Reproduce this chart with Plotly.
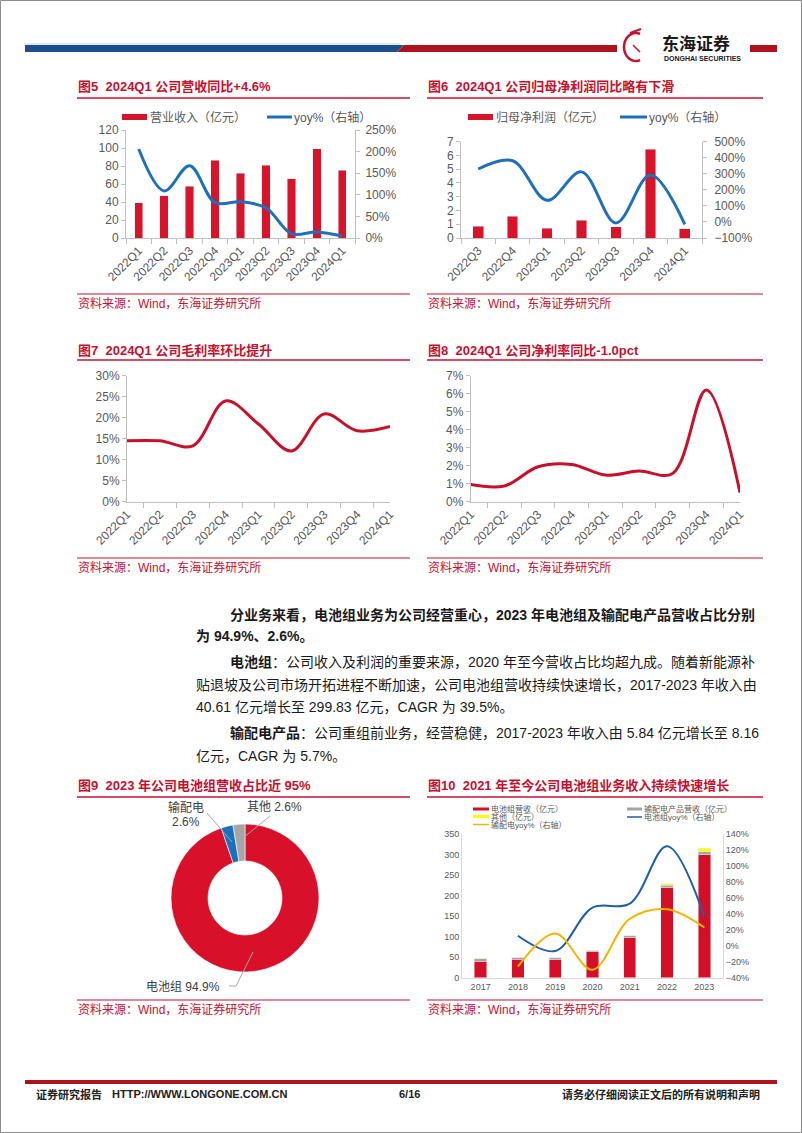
import math
import plotly.graph_objects as go

W, H = 802, 1133
def X(p): return p / W
def Y(p): return 1 - p / H

RED = '#d7142a'
TRED = '#c8102e'
LRED = '#c9102b'
BLUE = '#1f6fba'
GTXT = '#595959'
AXC = '#bfbfbf'
FONT = 'Liberation Sans, Noto Sans CJK SC, sans-serif'
CJK = 'Noto Sans CJK SC, Liberation Sans, sans-serif'

# ---------------- data ----------------
q9 = ['2022Q1', '2022Q2', '2022Q3', '2022Q4', '2023Q1', '2023Q2', '2023Q3', '2023Q4', '2024Q1']
revenue = [39.0, 46.8, 57.6, 86.6, 71.7, 80.7, 65.8, 98.9, 75.5]          # 亿元
revenue_yoy = [2.06, 1.09, 1.67, 0.82, 0.84, 0.70, 0.10, 0.14, 0.046]

q7 = ['2022Q3', '2022Q4', '2023Q1', '2023Q2', '2023Q3', '2023Q4', '2024Q1']
netprofit = [0.85, 1.58, 0.72, 1.29, 0.80, 6.45, 0.66]                  # 亿元
netprofit_yoy = [3.30, 3.81, 1.35, 3.12, -0.06, 2.92, -0.15]

gross_margin = [0.145, 0.145, 0.133, 0.240, 0.185, 0.121, 0.209, 0.169, 0.179]
net_margin = [0.0095, 0.0087, 0.0194, 0.0207, 0.0148, 0.0170, 0.0157, 0.0620, 0.0050]

pie_labels = ['电池组', '输配电', '其他']
pie_values = [94.9, 2.6, 2.6]

years = ['2017', '2018', '2019', '2020', '2021', '2022', '2023']
battery_rev = [40.61, 45.5, 43.2, 63.5, 97.0, 219.0, 299.83]
td_rev = [5.84, 4.3, 5.0, 3.5, 4.8, 6.9, 8.16]
other_rev = [0.6, 0.5, 0.4, 0.5, 0.8, 3.8, 8.3]
battery_yoy = [None, 0.127, -0.065, 0.479, 0.53, 1.25, 0.366]
td_yoy = [None, -0.26, 0.156, -0.30, 0.34, 0.46, 0.23]

# ---------------- figure ----------------
fig = go.Figure()

# Chart 5
fig.add_trace(go.Bar(x=q9, y=revenue, width=0.33, marker_color=RED, xaxis='x', yaxis='y', name='营业收入（亿元）'))
fig.add_trace(go.Scatter(x=q9, y=revenue_yoy, mode='lines', line=dict(color=BLUE, width=3, shape='spline', smoothing=1.0),
                         xaxis='x', yaxis='y2', name='yoy%（右轴）'))
# Chart 6
fig.add_trace(go.Bar(x=q7, y=netprofit, width=0.31, marker_color=RED, xaxis='x2', yaxis='y3', name='归母净利润（亿元）'))
fig.add_trace(go.Scatter(x=q7, y=netprofit_yoy, mode='lines', line=dict(color=BLUE, width=3, shape='spline', smoothing=1.0),
                         xaxis='x2', yaxis='y4', name='yoy%（右轴）'))
# Chart 7
fig.add_trace(go.Scatter(x=q9, y=gross_margin, mode='lines', line=dict(color=LRED, width=3, shape='spline', smoothing=1.0),
                         xaxis='x3', yaxis='y5', name='毛利率'))
# Chart 8
fig.add_trace(go.Scatter(x=q9, y=net_margin, mode='lines', line=dict(color=LRED, width=3, shape='spline', smoothing=1.0),
                         xaxis='x4', yaxis='y6', name='净利率'))
# Chart 9 donut
fig.add_trace(go.Pie(labels=pie_labels, values=pie_values, hole=0.5, sort=False, direction='clockwise', rotation=0,
                     textinfo='none', marker=dict(colors=['#d8102a', '#1b6fc0', '#a6a6a6'], line=dict(color='white', width=0.6)),
                     domain=dict(x=[X(171), X(319)], y=[Y(972), Y(824)]), showlegend=False))
# Chart 10
fig.add_trace(go.Bar(x=years, y=battery_rev, width=0.33, marker_color='#d40f27', xaxis='x5', yaxis='y7', name='电池组营收（亿元）'))
fig.add_trace(go.Bar(x=years, y=td_rev, width=0.33, marker_color='#a5a5a5', xaxis='x5', yaxis='y7', name='输配电产品营收（亿元）'))
fig.add_trace(go.Bar(x=years, y=other_rev, width=0.33, marker_color='#ffff00', xaxis='x5', yaxis='y7', name='其他（亿元）'))
fig.add_trace(go.Scatter(x=years, y=battery_yoy, mode='lines', line=dict(color='#1f5ea8', width=2, shape='spline', smoothing=1.0),
                         xaxis='x5', yaxis='y8', name='电池组yoy%（右轴）'))
fig.add_trace(go.Scatter(x=years, y=td_yoy, mode='lines', line=dict(color='#f7b500', width=2, shape='spline', smoothing=1.0),
                         xaxis='x5', yaxis='y8', name='输配电yoy%（右轴）'))


def xax(x0, x1, anchor, size=12, angle=-45, ticks='outside'):
    return dict(domain=[X(x0), X(x1)], anchor=anchor, type='category', showline=True, linecolor=AXC, linewidth=1,
                ticks=ticks, tickson='boundaries', ticklen=5, tickcolor=AXC, tickangle=angle, automargin=False,
                tickfont=dict(size=size, color=GTXT, family=FONT), showgrid=False, zeroline=False, fixedrange=True)


def yax(y0, y1, anchor, rng, dtick, fmt=None, size=12, side='left', overlay=None, standoff=None, line=True):
    d = dict(anchor=anchor, range=rng, dtick=dtick, showline=line, linecolor=AXC, linewidth=1, ticks='outside' if line else '',
             ticklen=4, tickcolor=AXC, tickfont=dict(size=size, color=GTXT, family=FONT), showgrid=False,
             zeroline=False, side=side, fixedrange=True, automargin=False)
    if overlay:
        d['overlaying'] = overlay
    else:
        d['domain'] = [Y(y1), Y(y0)]
    if fmt:
        d['tickformat'] = fmt
    if standoff is not None:
        d['ticklabelstandoff'] = standoff
    return d


layout = dict(
    width=W, height=H, margin=dict(l=0, r=0, t=0, b=0, pad=0, autoexpand=False),
    paper_bgcolor='white', plot_bgcolor='white',
    showlegend=False, barmode='stack', font=dict(family=FONT),
    xaxis=xax(126, 355, 'y'),
    yaxis=yax(130, 238, 'x', [0, 120], 20),
    yaxis2=yax(130, 238, 'x', [0, 2.5], 0.5, fmt='.0%', side='right', overlay='y', standoff=3),
    xaxis2=xax(461, 702, 'y3'),
    yaxis3=yax(141.7, 238, 'x2', [0, 7], 1),
    yaxis4=yax(141.7, 238, 'x2', [-1, 5], 1, fmt='.0%', side='right', overlay='y3', standoff=5),
    xaxis3=xax(127, 390, 'y5'),
    yaxis5=yax(375.7, 501.7, 'x3', [0, 0.30], 0.05, fmt='.0%'),
    xaxis4=xax(470.7, 740, 'y6'),
    yaxis6=yax(375.7, 501.7, 'x4', [0, 0.07], 0.01, fmt='.0%'),
    xaxis5=xax(462, 723, 'y7', size=9, angle=0, ticks=''),
    yaxis7=yax(834.3, 977.7, 'x5', [0, 350], 50, size=9),
    yaxis8=yax(834.3, 977.7, 'x5', [-0.4, 1.4], 0.2, fmt='.0%', size=9, side='right', overlay='y7'),
)
layout['xaxis5']['linecolor'] = '#d9d9d9'
layout['yaxis7']['linecolor'] = '#d9d9d9'
layout['yaxis8']['linecolor'] = '#d9d9d9'
layout['yaxis7']['ticks'] = ''
layout['yaxis8']['ticks'] = ''
fig.update_layout(**layout)

ann = []
shapes = []


def text(x, y, s, size=12, color='#000', xanchor='left', family=FONT, yanchor='middle'):
    ann.append(dict(x=X(x), y=Y(y), xref='paper', yref='paper', text=s, showarrow=False, xanchor=xanchor,
                    yanchor=yanchor, font=dict(size=size, color=color, family=family), borderpad=0))


def line(x0, y0, x1, y1, color, width):
    shapes.append(dict(type='line', xref='paper', yref='paper', x0=X(x0), y0=Y(y0), x1=X(x1), y1=Y(y1),
                       line=dict(color=color, width=width)))


def rect(x0, y0, x1, y1, color):
    shapes.append(dict(type='rect', xref='paper', yref='paper', x0=X(x0), y0=Y(y0), x1=X(x1), y1=Y(y1),
                       line=dict(width=0), fillcolor=color))


def poly(pts, color):
    p = 'M ' + ' L '.join(f'{X(a):.5f},{Y(b):.5f}' for a, b in pts) + ' Z'
    shapes.append(dict(type='path', xref='paper', yref='paper', path=p, fillcolor=color, line=dict(width=0)))


# page border
shapes.append(dict(type='rect', xref='paper', yref='paper', x0=X(0.5), y0=Y(1132.5), x1=X(801.5), y1=Y(0.5),
                   line=dict(color='#8c8c8c', width=1)))

# header
line(25, 44, 400, 44, '#bdd7ee', 1)
poly([(25, 45), (404, 45), (397, 52), (25, 52)], '#1f4e8d')
poly([(397, 52), (404, 45), (617, 45), (617, 52)], '#b0111e')
rect(750, 45, 777, 52, '#b0111e')
arc = []
for i in range(0, 41):
    a = math.radians(70 + i * 5.5)
    arc.append((636 + 12 * math.cos(a), 47 - 14 * math.sin(a)))
shapes.append(dict(type='path', xref='paper', yref='paper',
                   path='M ' + ' L '.join(f'{X(a):.5f},{Y(b):.5f}' for a, b in arc),
                   line=dict(color='#c8102e', width=2.5)))
line(630, 33, 641, 29, '#c8102e', 2)
line(633, 45, 640, 52, '#c8102e', 1.5)
text(661, 42, '<b>东海证券</b>', size=17, color='#1a1a1a', family=CJK)
text(663, 58, '<b>DONGHAI SECURITIES</b>', size=7, color='#1a1a1a')

# titles, rules and sources
titles = [(77, 87, '<b>图5  2024Q1 公司营收同比+4.6%</b>'),
          (427, 87, '<b>图6  2024Q1 公司归母净利润同比略有下滑</b>'),
          (77, 350, '<b>图7  2024Q1 公司毛利率环比提升</b>'),
          (427, 350, '<b>图8  2024Q1 公司净利率同比-1.0pct</b>'),
          (77, 785, '<b>图9  2023 年公司电池组营收占比近 95%</b>'),
          (427, 785, '<b>图10  2021 年至今公司电池组业务收入持续快速增长</b>')]
for x, y, s in titles:
    text(x, y, s, size=13, color=TRED)
for y in (98, 360, 797):
    line(77, y, 410, y, TRED, 1.5)
    line(427, y, 763, y, TRED, 1.5)
for y_line, y_txt in ((294, 303), (558, 567), (1000, 1009)):
    line(77, y_line, 410, y_line, TRED, 1.2)
    line(427, y_line, 763, y_line, TRED, 1.2)
    text(77, y_txt, '资料来源：Wind，东海证券研究所', size=12, color=TRED)
    text(427, y_txt, '资料来源：Wind，东海证券研究所', size=12, color=TRED)

# legends chart 5 & 6
rect(122, 114, 147, 120, RED)
text(149, 117, '营业收入（亿元）', size=12, color=GTXT)
line(267, 117, 292, 117, BLUE, 3)
text(293, 117, 'yoy%（右轴）', size=12, color=GTXT)
rect(468, 114, 493, 120, RED)
text(495, 117, '归母净利润（亿元）', size=12, color=GTXT)
line(620, 117, 647, 117, BLUE, 3)
text(648, 117, 'yoy%（右轴）', size=12, color=GTXT)

# legend chart 10
rect(473, 807.5, 489, 810.5, '#d40f27')
text(490, 809, '电池组营收（亿元）', size=8, color=GTXT)
rect(627, 807.5, 642, 810.5, '#a5a5a5')
text(643, 809, '输配电产品营收（亿元）', size=8, color=GTXT)
rect(473, 815, 489, 818, '#ffff00')
text(490, 816.5, '其他（亿元）', size=8, color=GTXT)
line(627, 817, 642, 817, '#1f5ea8', 1.5)
text(643, 816.5, '电池组yoy%（右轴）', size=8, color=GTXT)
line(473, 824.5, 489, 824.5, '#f7b500', 1.5)
text(490, 824.5, '输配电yoy%（右轴）', size=8, color=GTXT)

# donut labels
PC = '#404040'
text(186, 807, pie_labels[1], size=12, color=PC, xanchor='center')
text(186, 822, f'{pie_values[1]}%', size=12, color=PC, xanchor='center')
text(246, 807, f'{pie_labels[2]} {pie_values[2]}%', size=12, color=PC)
text(145, 987, f'{pie_labels[0]} {pie_values[0]}%', size=12, color=PC)
line(207, 813, 232, 842, '#a6a6a6', 1)
line(270, 816, 243, 838, '#a6a6a6', 1)
line(253, 952, 236, 986, '#a6a6a6', 1)
line(236, 986, 229, 986, '#a6a6a6', 1)

# body text
BT = '#1a1a1a'
body = [(229, 615, '<b>分业务来看，电池组业务为公司经营重心，2023 年电池组及输配电产品营收占比分别</b>'),
        (195, 636, '<b>为 94.9%、2.6%。</b>'),
        (229, 662, '<b>电池组</b>：公司收入及利润的重要来源，2020 年至今营收占比均超九成。随着新能源补'),
        (195, 685, '贴退坡及公司市场开拓进程不断加速，公司电池组营收持续快速增长，2017-2023 年收入由'),
        (195, 707, '40.61 亿元增长至 299.83 亿元，CAGR 为 39.5%。'),
        (229, 733, '<b>输配电产品</b>：公司重组前业务，经营稳健，2017-2023 年收入由 5.84 亿元增长至 8.16'),
        (195, 756, '亿元，CAGR 为 5.7%。')]
for x, y, s in body:
    text(x, y, s, size=14, color=BT)

# footer
rect(25, 1080, 777, 1084, '#b0111e')
text(35, 1094, '<b>证券研究报告</b>', size=11, color='#222')
text(111, 1094, '<b>HTTP://WWW.LONGONE.COM.CN</b>', size=11, color='#222')
text(409, 1094, '<b>6/16</b>', size=11, color='#222', xanchor='center')
text(761, 1094, '<b>请务必仔细阅读正文后的所有说明和声明</b>', size=11, color='#222', xanchor='right')

fig.update_layout(annotations=ann, shapes=shapes)
fig.write_html('out.html')
